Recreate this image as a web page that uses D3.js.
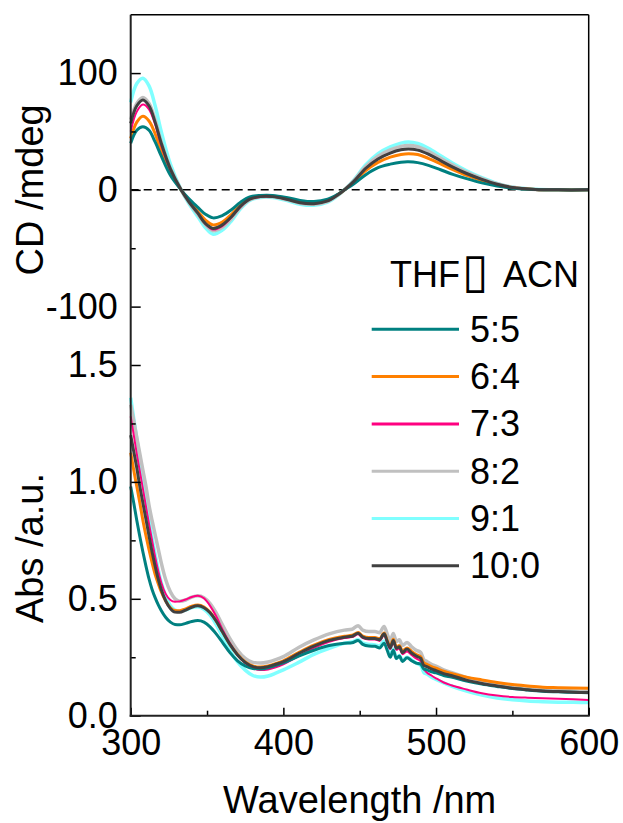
<!DOCTYPE html>
<html lang="en">
<head>
    <meta charset="UTF-8">
    <title>CD / Abs</title>
    <script src="https://d3js.org/d3.v7.min.js"></script>
    <style>
        body { margin: 0; background: #fff; }
        text { font-family: "Liberation Sans", Arial, sans-serif; fill: #000; }
    </style>
</head>
<body>
    <svg id="chart" width="623" height="823"></svg>

    <script>
        // legend labels and colours
        var ratios = ["5:5", "6:4", "7:3", "8:2", "9:1", "10:0"];
        var colors = ["#008080", "#FF8000", "#FF0080", "#C0C0C0", "#80FFFF", "#404040"];

        // CD spectra (mdeg)
        var wlCD = [300,304,308,312,316,320,326,333,338,344,349,354,360,366,372,378,385,393,402,411,420,429,436,440,446,454,462,470,477,482,488,495,503,511,520,530,540,550,565,580,600];
        var cd55  = [40,51,54,51,41,29,12.5,0,-7.5,-15,-21,-24,-22,-17,-10.5,-6,-4.8,-4.8,-6.5,-9,-10,-8,-3.5,0,5,13,19,22,23.7,24,23.3,21,17.2,13.3,9.6,6,3.2,1.4,0.3,0,0];
        var cd64  = [44,58,63,59,48,33,15,0,-9,-18.5,-26,-30,-27.5,-21,-13,-7.5,-5.5,-5.5,-7.5,-10.5,-11.3,-9,-3.8,0,6.2,16.5,23.5,28,30.3,31,30.2,27,22.2,17.3,12.4,8,4.2,1.8,0.4,0,0];
        var cd73  = [50,67,73,69,56,38,17,0,-10,-20,-29,-34,-31,-23.5,-14.5,-8,-6,-6,-8,-11,-12,-9.5,-4,0,7,18.5,26.5,31.5,34.3,35,34,30.5,25,19.5,14,9,4.8,2,0.4,0,0];
        var cd82  = [60,74,79,74,60,41,18.5,0,-10.5,-21,-30,-35,-32,-24.5,-15,-8.5,-6,-6,-8.3,-11.5,-12.3,-9.8,-4.2,0,7.6,20,28.8,34.2,37.2,38,36.9,33,27,21.2,15.2,9.8,5.2,2.2,0.4,0,0];
        var cd91  = [75,91,95.5,89,72,50,22,0,-11.5,-23,-32.5,-38,-34.5,-26.5,-16,-9,-6.5,-6.5,-9,-12.3,-13.2,-10.5,-4.5,0,8.2,21.5,31,36.8,40,41,39.7,35.6,29.2,22.8,16.4,10.5,5.6,2.3,0.5,0,0];
        var cd100 = [57,72,77,72,58,40,18,0,-10,-20,-29,-33,-30,-23,-14,-8,-5.8,-5.8,-8,-11,-11.8,-9.5,-4,0,7,18.5,26.5,31.5,34.3,35,34,30.5,25,19.5,14,9,4.8,2,0.4,0,0];

        // UV-vis absorbance
        var wlAbs = [300,302,304,306,308,310,312,314,316,318,320,323,326,329,332,336,340,344,348,352,356,360,365,370,375,380,385,390,395,400,410,420,430,440,445,449,452,456,460,463,466,468,470,472,474,476,478,481,484,487,490,492,494,497,500,505,510,520,530,540,550,560,570,580,590,600];
        var abs55  = [0.98,0.91,0.835,0.765,0.7,0.64,0.585,0.54,0.505,0.475,0.45,0.42,0.4,0.39,0.389,0.395,0.403,0.407,0.4,0.38,0.35,0.315,0.27,0.235,0.213,0.202,0.2,0.205,0.215,0.226,0.255,0.28,0.3,0.31,0.312,0.322,0.305,0.298,0.297,0.29,0.31,0.28,0.25,0.28,0.245,0.255,0.232,0.248,0.235,0.225,0.22,0.2,0.196,0.188,0.183,0.172,0.165,0.148,0.135,0.125,0.116,0.11,0.105,0.102,0.1,0.098];
        var abs64  = [1.125,1.05,0.98,0.91,0.835,0.77,0.71,0.655,0.605,0.565,0.53,0.49,0.462,0.45,0.449,0.457,0.468,0.473,0.465,0.442,0.405,0.36,0.305,0.262,0.23,0.213,0.208,0.213,0.223,0.235,0.27,0.302,0.326,0.34,0.344,0.356,0.34,0.334,0.334,0.329,0.354,0.322,0.296,0.327,0.294,0.3,0.277,0.29,0.275,0.262,0.252,0.226,0.22,0.21,0.203,0.19,0.181,0.165,0.153,0.142,0.133,0.127,0.122,0.12,0.118,0.117];
        var abs73  = [1.28,1.2,1.12,1.045,0.97,0.895,0.82,0.75,0.68,0.62,0.57,0.52,0.495,0.487,0.489,0.497,0.508,0.513,0.502,0.47,0.425,0.37,0.31,0.26,0.225,0.203,0.195,0.198,0.207,0.22,0.255,0.29,0.316,0.332,0.336,0.348,0.332,0.326,0.326,0.32,0.345,0.312,0.285,0.316,0.282,0.288,0.263,0.275,0.26,0.245,0.232,0.2,0.185,0.172,0.16,0.142,0.13,0.112,0.096,0.086,0.08,0.077,0.075,0.072,0.07,0.067];
        var abs82  = [1.33,1.26,1.19,1.12,1.05,0.98,0.9,0.835,0.775,0.715,0.655,0.58,0.53,0.5,0.49,0.495,0.507,0.513,0.505,0.48,0.44,0.39,0.33,0.28,0.245,0.228,0.225,0.23,0.24,0.253,0.292,0.324,0.35,0.366,0.37,0.385,0.366,0.36,0.36,0.355,0.382,0.35,0.32,0.352,0.318,0.325,0.3,0.313,0.295,0.28,0.27,0.24,0.232,0.22,0.212,0.196,0.185,0.163,0.148,0.135,0.124,0.117,0.112,0.109,0.106,0.105];
        var abs91  = [1.36,1.27,1.185,1.1,1.015,0.925,0.839,0.76,0.69,0.625,0.57,0.51,0.47,0.452,0.447,0.452,0.462,0.466,0.455,0.43,0.39,0.34,0.28,0.23,0.195,0.172,0.165,0.17,0.182,0.196,0.228,0.262,0.288,0.31,0.315,0.325,0.31,0.305,0.303,0.298,0.32,0.29,0.26,0.285,0.245,0.258,0.235,0.25,0.238,0.225,0.215,0.185,0.178,0.165,0.155,0.14,0.127,0.105,0.088,0.076,0.068,0.063,0.06,0.058,0.057,0.056];
        var abs100 = [1.2,1.13,1.06,0.98,0.91,0.84,0.77,0.7,0.64,0.585,0.54,0.49,0.458,0.443,0.442,0.452,0.464,0.47,0.462,0.44,0.405,0.36,0.305,0.26,0.228,0.21,0.205,0.21,0.22,0.231,0.266,0.298,0.322,0.336,0.34,0.353,0.336,0.33,0.33,0.325,0.35,0.318,0.29,0.322,0.288,0.295,0.27,0.285,0.268,0.255,0.245,0.215,0.21,0.2,0.193,0.18,0.172,0.152,0.138,0.127,0.117,0.111,0.106,0.103,0.1,0.099];

        var cdSeries = [cd55, cd64, cd73, cd82, cd91, cd100];
        var absSeries = [abs55, abs64, abs73, abs82, abs91, abs100];
        var widths = [3, 3, 2, 3.5, 3.5, 3];
        var drawOrder = [4, 3, 1, 2, 0, 5]; // cyan first, dark grey on top

        var plotL = 130.7, plotR = 588.7, plotT = 14.7, plotM = 365, plotB = 715.7;

        var svg = d3.select("#chart");

        var x = d3.scaleLinear().domain([300, 600]).range([plotL, plotR]);
        var yCD = d3.scaleLinear().domain([-150, 150]).range([plotM, plotT]);
        var yAbs = d3.scaleLinear().domain([0, 1.5]).range([plotB, plotM]);

        // zero line in the CD panel
        svg.append("line")
            .attr("x1", x(300)).attr("x2", x(600))
            .attr("y1", yCD(0)).attr("y2", yCD(0))
            .attr("stroke", "#000").attr("stroke-width", 1.5)
            .attr("stroke-dasharray", "8,5");

        var lineCD = d3.line()
            .x(function(d) { return x(d[0]); })
            .y(function(d) { return yCD(d[1]); })
            .curve(d3.curveCatmullRom.alpha(0.5));
        var lineAbs = d3.line()
            .x(function(d) { return x(d[0]); })
            .y(function(d) { return yAbs(d[1]); })
            .curve(d3.curveMonotoneX);

        drawOrder.forEach(function(i) {
            svg.append("path")
                .datum(wlCD.map(function(w, j) { return [w, cdSeries[i][j]]; }))
                .attr("d", lineCD)
                .attr("fill", "none")
                .attr("stroke", colors[i])
                .attr("stroke-width", widths[i]);
        });
        drawOrder.forEach(function(i) {
            svg.append("path")
                .datum(wlAbs.map(function(w, j) { return [w, absSeries[i][j]]; }))
                .attr("d", lineAbs)
                .attr("fill", "none")
                .attr("stroke", colors[i])
                .attr("stroke-width", widths[i])
                .attr("stroke-linejoin", "round");
        });

        // axes (ticks point inwards)
        function styleAxis(g) {
            g.select(".domain").remove();
            g.selectAll(".tick line").attr("stroke", "#000").attr("stroke-width", 1.5);
            g.selectAll("text").style("font-size", "36px").attr("fill", "#000");
        }

        svg.append("g").attr("transform", "translate(" + plotL + ",0)")
            .call(d3.axisLeft(yCD).tickValues([-100, 0, 100]).tickSize(-10).tickPadding(13)
                .tickFormat(function(d) { return String(d); }))
            .call(styleAxis);
        svg.append("g").attr("transform", "translate(" + plotL + ",0)")
            .call(d3.axisLeft(yCD).tickValues([-50, 50]).tickSize(-5).tickFormat(""))
            .call(styleAxis);

        svg.append("g").attr("transform", "translate(" + plotL + ",0)")
            .call(d3.axisLeft(yAbs).tickValues([0, 0.5, 1.0, 1.5]).tickSize(-10).tickPadding(13)
                .tickFormat(d3.format(".1f")))
            .call(styleAxis);
        svg.append("g").attr("transform", "translate(" + plotL + ",0)")
            .call(d3.axisLeft(yAbs).tickValues([0.25, 0.75, 1.25]).tickSize(-5).tickFormat(""))
            .call(styleAxis);

        svg.append("g").attr("transform", "translate(0," + plotB + ")")
            .call(d3.axisBottom(x).tickValues([300, 400, 500, 600]).tickSize(-8).tickPadding(14))
            .call(styleAxis);
        svg.append("g").attr("transform", "translate(0," + plotB + ")")
            .call(d3.axisBottom(x).tickValues([350, 450, 550]).tickSize(-5).tickFormat(""))
            .call(styleAxis);

        // frame
        svg.append("line").attr("x1", plotL).attr("x2", plotR).attr("y1", plotT).attr("y2", plotT)
            .attr("stroke", "#000").attr("stroke-width", 1.5);
        svg.append("line").attr("x1", plotR).attr("x2", plotR).attr("y1", plotT).attr("y2", plotB)
            .attr("stroke", "#000").attr("stroke-width", 1.5);
        svg.append("line").attr("x1", plotL).attr("x2", plotL).attr("y1", plotT).attr("y2", plotB + 1)
            .attr("stroke", "#222").attr("stroke-width", 2);
        svg.append("line").attr("x1", plotL - 1).attr("x2", plotR + 1).attr("y1", plotB).attr("y2", plotB)
            .attr("stroke", "#222").attr("stroke-width", 2);

        // axis titles
        svg.append("text")
            .attr("transform", "translate(43," + yCD(0) + ") rotate(-90)")
            .attr("text-anchor", "middle")
            .style("font-size", "38px")
            .text("CD /mdeg");
        svg.append("text")
            .attr("transform", "translate(43,548) rotate(-90)")
            .attr("text-anchor", "middle")
            .style("font-size", "38px")
            .text("Abs /a.u.");
        svg.append("text")
            .attr("x", (plotL + plotR) / 2).attr("y", 813)
            .attr("text-anchor", "middle")
            .style("font-size", "38px")
            .text("Wavelength /nm");

        // legend
        var title = svg.append("text").attr("y", 287).style("font-size", "36px");
        title.append("tspan").attr("x", 390).text("THF");
        title.append("tspan").attr("x", 462).style("font-family", "DejaVu Sans").style("font-size", "48px").text("\u25AF");
        title.append("tspan").attr("x", 503).text("ACN");

        var legend = svg.append("g");
        ratios.forEach(function(r, i) {
            var ly = 329.3 + i * 47.3;
            legend.append("line")
                .attr("x1", 371.7).attr("x2", 459)
                .attr("y1", ly).attr("y2", ly)
                .attr("stroke", colors[i]).attr("stroke-width", 3);
            legend.append("text")
                .attr("x", 470).attr("y", ly + 12.5)
                .style("font-size", "36px")
                .text(r);
        });
    </script>
</body>
</html>
